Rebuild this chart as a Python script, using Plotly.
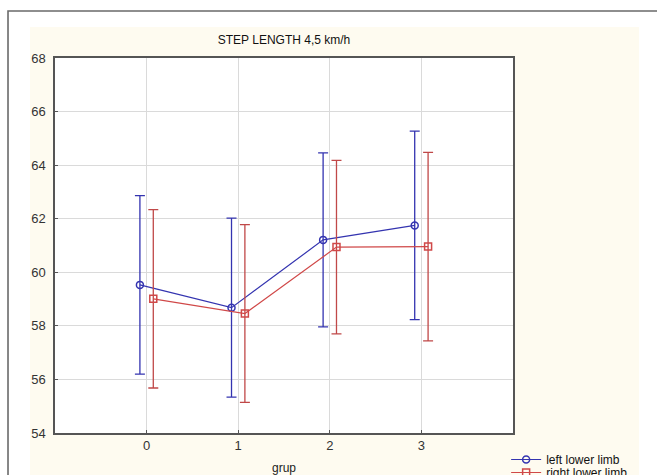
import plotly.graph_objects as go

groups = [0, 1, 2, 3]
left_mean = [59.53, 58.68, 61.21, 61.75]
left_err = [3.33, 3.34, 3.25, 3.52]
right_mean = [59.01, 58.46, 60.94, 60.96]
right_err = [3.33, 3.32, 3.24, 3.52]
offset = 0.073

BLUE = "#3434B0"
RED = "#D04848"

fig = go.Figure()
fig.add_trace(go.Scatter(
    x=[g - offset for g in groups], y=left_mean, name="left lower limb",
    mode="lines+markers", legend="legend",
    line=dict(color=BLUE, width=1.2),
    marker=dict(symbol="circle-open", size=7, color=BLUE, line=dict(width=1.5)),
    error_y=dict(type="data", array=left_err, visible=True, color=BLUE, thickness=1.3, width=5),
))
fig.add_trace(go.Scatter(
    x=[g + offset for g in groups], y=right_mean, name="right lower limb",
    mode="lines+markers", legend="legend2",
    line=dict(color=RED, width=1.2),
    marker=dict(symbol="square-open", size=7, color=RED, line=dict(width=1.5)),
    error_y=dict(type="data", array=right_err, visible=True, color="#C04848", thickness=1.3, width=5),
))

shapes = [
    dict(type="rect", xref="paper", yref="paper", x0=-0.1026, x1=1.5, y0=-0.4, y1=1.1253,
         line=dict(color="#6A6A6A", width=1.6), fillcolor="white", layer="below"),
    dict(type="rect", xref="paper", yref="paper", x0=-0.0546, x1=1.275, y0=-0.4, y1=1.0827,
         line=dict(width=0), fillcolor="#FEFBF0", layer="below"),
    dict(type="rect", xref="paper", yref="paper", x0=0, x1=1, y0=0, y1=1,
         line=dict(width=0), fillcolor="white", layer="below"),
]

legend_common = dict(x=0.985, xanchor="left", yanchor="top",
                     bgcolor="rgba(0,0,0,0)", font=dict(size=12, color="#111"),
                     tracegroupgap=0, itemwidth=30)

fig.update_layout(
    width=657, height=475,
    margin=dict(l=55, r=144, t=58, b=42, autoexpand=False),
    paper_bgcolor="white", plot_bgcolor="white",
    font=dict(family="Liberation Sans, Arial, sans-serif", size=12, color="#222"),
    title=dict(text="STEP LENGTH 4,5 km/h", x=(284) / 657, xanchor="center",
               y=1 - 40 / 475, yanchor="middle", yref="container",
               font=dict(size=12, color="#111")),
    shapes=shapes,
    showlegend=True,
    legend=dict(y=-0.032, **legend_common),
    legend2=dict(y=-0.0667, **legend_common),
    xaxis=dict(range=[-1, 4], tickvals=groups, ticktext=[str(g) for g in groups],
               showgrid=True, gridcolor="#DADADA", gridwidth=1,
               showline=True, linecolor="#555", linewidth=1.5, mirror=True,
               ticks="inside", ticklen=3, tickcolor="#555", zeroline=False,
               tickfont=dict(size=13, color="#333"),
               title=dict(text="grup", standoff=12, font=dict(size=12, color="#222"))),
    yaxis=dict(range=[54, 68], dtick=2, tick0=54,
               showgrid=True, gridcolor="#DADADA", gridwidth=1,
               showline=True, linecolor="#555", linewidth=1.5, mirror=True,
               ticks="inside", ticklen=3, tickcolor="#555", zeroline=False,
               tickfont=dict(size=13, color="#333"), ticklabelstandoff=5),
)

fig.write_html("out.html", config={"displayModeBar": False},
               post_script="document.body.style.margin='0';")
